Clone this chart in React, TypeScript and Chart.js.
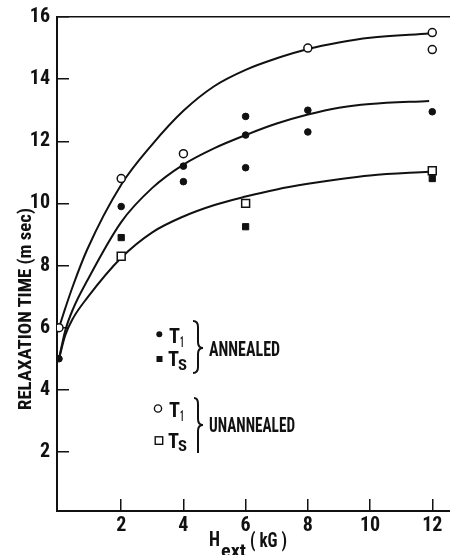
import React, { useEffect, useRef, useLayoutEffect } from "react";
import { Chart, registerables } from "chart.js";
Chart.register(...registerables);

// ---------- data ----------
const xTicks = [2, 4, 6, 8, 10, 12];
const yTicks = [2, 4, 6, 8, 10, 12, 14, 16];

const annealedT1X = [0, 2, 4, 4, 6, 6, 6, 8, 8, 12];
const annealedT1Y = [5.0, 9.9, 11.2, 10.7, 12.8, 12.2, 11.15, 13.0, 12.3, 12.95];
const annealedTsX = [2, 6, 12];
const annealedTsY = [8.9, 9.25, 10.8];
const unannealedT1X = [0, 2, 4, 8, 12, 12];
const unannealedT1Y = [6.0, 10.8, 11.6, 15.0, 15.5, 14.95];
const unannealedTsX = [2, 6, 12];
const unannealedTsY = [8.3, 10.0, 11.05];

const curveX = [0, 0.2, 0.45, 0.9, 2, 3, 4, 5, 6, 7, 8, 9, 10, 11.9];
const curveUnannealedT1 = [6.0, 6.62, 7.35, 8.5, 10.6, 11.9, 12.98, 13.78, 14.3, 14.67, 14.97, 15.18, 15.33, 15.47];
const curveAnnealedT1 = [5.0, 5.9, 6.6, 7.5, 9.4, 10.5, 11.25, 11.78, 12.2, 12.57, 12.86, 13.08, 13.2, 13.3];
const curveTs = [5.0, 5.75, 6.3, 6.95, 8.25, 9.07, 9.58, 9.95, 10.22, 10.45, 10.63, 10.78, 10.9, 11.02];

const FONT = "'Roboto Condensed', 'Roboto', sans-serif";
const INK = "#111";

const pts = (xs: number[], ys: number[]) => xs.map((x, i) => ({ x, y: ys[i] }));

function FitText({ text, left, baseline, size, width }: { text: string; left: number; baseline: number; size: number; width: number }) {
  const ref = useRef<HTMLDivElement>(null);
  useLayoutEffect(() => {
    const el = ref.current;
    if (!el) return;
    el.style.transform = "none";
    const w = el.getBoundingClientRect().width;
    el.style.transform = `scaleX(${width / w})`;
  }, [text, width]);
  return (
    <div
      ref={ref}
      style={{
        position: "absolute",
        left,
        top: baseline - 0.85 * size,
        fontSize: size,
        lineHeight: `${size}px`,
        fontFamily: FONT,
        fontWeight: "bold",
        whiteSpace: "nowrap",
        transformOrigin: "left top",
        color: INK,
      }}
    >
      {text}
    </div>
  );
}

function RotText({ text, cx, cy, size, length }: { text: string; cx: number; cy: number; size: number; length: number }) {
  const ref = useRef<HTMLDivElement>(null);
  useLayoutEffect(() => {
    const el = ref.current;
    if (!el) return;
    el.style.transform = "none";
    const w = el.getBoundingClientRect().width;
    el.style.transform = `translate(-50%, -50%) rotate(-90deg) scaleX(${length / w})`;
  }, [text, length]);
  return (
    <div
      ref={ref}
      style={{
        position: "absolute",
        left: cx,
        top: cy,
        fontSize: size,
        lineHeight: `${size}px`,
        fontFamily: FONT,
        fontWeight: "bold",
        whiteSpace: "nowrap",
        transformOrigin: "center center",
        color: INK,
      }}
    >
      {text}
    </div>
  );
}

export default function App() {
  const canvasRef = useRef<HTMLCanvasElement>(null);

  useEffect(() => {
    const canvas = canvasRef.current;
    if (!canvas) return;
    const xMin = -0.064;
    const xMax = 12.57;
    const tickFont = { family: FONT, size: 20, weight: "bold" as const };
    const chart = new Chart(canvas, {
      type: "scatter",
      data: {
        datasets: [
          {
            label: "unannealed T1",
            data: pts(unannealedT1X, unannealedT1Y),
            pointStyle: "circle",
            pointRadius: 4,
            backgroundColor: "#fff",
            borderColor: INK,
            borderWidth: 1.5,
          },
          {
            label: "unannealed Ts",
            data: pts(unannealedTsX, unannealedTsY),
            pointStyle: "rect",
            pointRadius: 5.6,
            backgroundColor: "#fff",
            borderColor: INK,
            borderWidth: 1.5,
          },
          {
            label: "annealed T1",
            data: pts(annealedT1X, annealedT1Y),
            pointStyle: "circle",
            pointRadius: 3.3,
            backgroundColor: INK,
            borderColor: INK,
            borderWidth: 1,
          },
          {
            label: "annealed Ts",
            data: pts(annealedTsX, annealedTsY),
            pointStyle: "rect",
            pointRadius: 4.4,
            backgroundColor: INK,
            borderColor: INK,
            borderWidth: 1,
          },
          {
            type: "line",
            label: "fit unannealed T1",
            data: pts(curveX, curveUnannealedT1),
            showLine: true,
            pointRadius: 0,
            borderColor: INK,
            borderWidth: 2,
            cubicInterpolationMode: "monotone",
            fill: false,
          },
          {
            type: "line",
            label: "fit annealed T1",
            data: pts(curveX, curveAnnealedT1),
            showLine: true,
            pointRadius: 0,
            borderColor: INK,
            borderWidth: 2,
            cubicInterpolationMode: "monotone",
            fill: false,
          },
          {
            type: "line",
            label: "fit Ts",
            data: pts(curveX, curveTs),
            showLine: true,
            pointRadius: 0,
            borderColor: INK,
            borderWidth: 2,
            cubicInterpolationMode: "monotone",
            fill: false,
          },
        ] as any,
      },
      options: {
        animation: false,
        responsive: false,
        events: [],
        layout: { autoPadding: false, padding: { top: 17, left: 0, right: 0, bottom: 0 } },
        plugins: {
          legend: { display: false },
          tooltip: { enabled: false },
          title: { display: false },
        },
        scales: {
          x: {
            type: "linear",
            position: "bottom",
            min: xMin,
            max: xMax,
            afterBuildTicks: (s: any) => {
              s.ticks = xTicks.map((v) => ({ value: v }));
            },
            afterFit: (s: any) => {
              s.height = 44;
              s.paddingLeft = 0;
              s.paddingRight = 0;
            },
            grid: { display: true, drawOnChartArea: false, drawTicks: true, tickLength: -12, color: INK, lineWidth: 1.5 },
            border: { display: true, color: INK, width: 2 },
            ticks: { color: INK, font: tickFont, padding: 15, maxRotation: 0, autoSkip: false },
          },
          xTop: {
            type: "linear",
            position: "top",
            min: xMin,
            max: xMax,
            grid: { display: false },
            ticks: { display: false },
            border: { display: true, color: INK, width: 1.5 },
            afterFit: (s: any) => {
              s.height = 0;
              s.paddingLeft = 0;
              s.paddingRight = 0;
            },
          },
          y: {
            type: "linear",
            position: "left",
            min: 0.1,
            max: 16,
            afterBuildTicks: (s: any) => {
              s.ticks = yTicks.map((v) => ({ value: v }));
            },
            afterFit: (s: any) => {
              s.width = 57;
              s.paddingTop = 0;
              s.paddingBottom = 0;
            },
            grid: { display: true, drawOnChartArea: false, drawTicks: true, tickLength: -12, color: INK, lineWidth: 1.5 },
            border: { display: true, color: INK, width: 2 },
            ticks: { color: INK, font: tickFont, padding: 19, autoSkip: false },
          },
        },
      } as any,
    });
    return () => chart.destroy();
  }, []);

  return (
    <div style={{ position: "absolute", left: 0, top: 0, width: 450, height: 555, background: "#fff", overflow: "hidden" }}>
      <canvas ref={canvasRef} width={450} height={555} style={{ width: 450, height: 555, display: "block" }} />
      <svg width={450} height={555} style={{ position: "absolute", left: 0, top: 0, pointerEvents: "none" }}>
        <circle cx={159.3} cy={334.3} r={3} fill={INK} />
        <rect x={156.5} y={356} width={6} height={6} fill={INK} />
        <circle cx={158} cy={408.5} r={3.6} fill="#fff" stroke={INK} strokeWidth={1.4} />
        <rect x={155.2} y={436.8} width={7.5} height={7.5} fill="#fff" stroke={INK} strokeWidth={1.4} />
        <path d="M 193 321 Q 198 321 198 327 L 198 342 Q 198 348 203 348 Q 198 348 198 354 L 198 367 Q 198 373 193 373" fill="none" stroke={INK} strokeWidth={2} />
        <path d="M 194 398 Q 198 398 198 404 L 198 419 Q 198 425 203 425 Q 198 425 198 431 L 198 453" fill="none" stroke={INK} strokeWidth={2} />
      </svg>
      <FitText text="T" left={169} baseline={343} size={20} width={11} />
      <FitText text="1" left={180} baseline={347} size={14} width={4} />
      <FitText text="T" left={168} baseline={366} size={20} width={11} />
      <FitText text="S" left={178} baseline={370} size={14} width={9} />
      <FitText text="ANNEALED" left={209} baseline={356} size={20} width={71} />
      <FitText text="T" left={169} baseline={417} size={20} width={11} />
      <FitText text="1" left={180} baseline={421} size={14} width={4} />
      <FitText text="T" left={168} baseline={448} size={20} width={11} />
      <FitText text="S" left={178} baseline={451} size={14} width={9} />
      <FitText text="UNANNEALED" left={209} baseline={432} size={20} width={86} />
      <RotText text="RELAXATION TIME (m sec)" cx={24} cy={309} size={19} length={202} />
      <FitText text="H" left={209} baseline={547} size={21} width={11} />
      <FitText text="ext" left={221} baseline={557} size={18} width={25} />
      <FitText text="( kG )" left={250} baseline={547} size={20} width={37} />
    </div>
  );
}
